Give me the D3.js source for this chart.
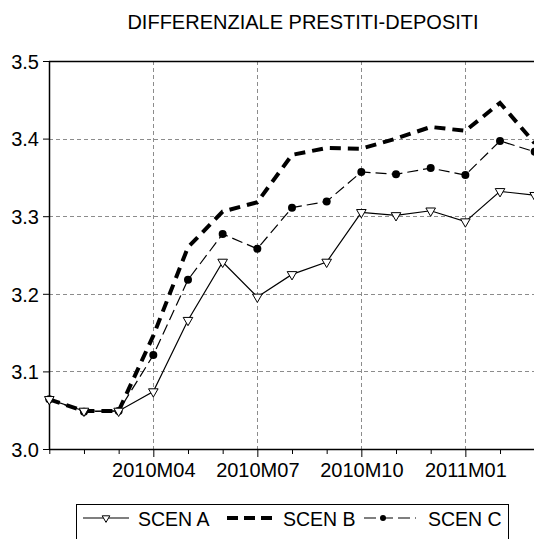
<!DOCTYPE html>
<html>
<head>
<meta charset="utf-8">
<script src="https://cdn.jsdelivr.net/npm/d3@7"></script>
<style>
html,body{margin:0;padding:0;background:#fff;overflow:hidden;}
svg{display:block;}
text{font-family:"Liberation Sans",Arial,sans-serif;fill:#000;}
</style>
</head>
<body>
<div id="chart"></div>
<script>
const title = "DIFFERENZIALE PRESTITI-DEPOSITI";
const months = ["2010M01","2010M02","2010M03","2010M04","2010M05","2010M06","2010M07","2010M08","2010M09","2010M10","2010M11","2010M12","2011M01","2011M02","2011M03"];
const xTickLabels = ["2010M04","2010M07","2010M10","2011M01"];
const yTicks = [3.0, 3.1, 3.2, 3.3, 3.4, 3.5];
const seriesNames = ["SCEN A","SCEN B","SCEN C"];
const scenA = [3.064,3.049,3.049,3.074,3.166,3.241,3.196,3.225,3.241,3.305,3.301,3.307,3.293,3.332,3.327];
const scenB = [3.064,3.049,3.049,3.146,3.260,3.306,3.318,3.379,3.388,3.387,3.400,3.415,3.410,3.446,3.394];
const scenC = [3.064,3.048,3.049,3.121,3.218,3.277,3.258,3.311,3.319,3.357,3.354,3.362,3.353,3.397,3.383];

(function(){
const W = 534, H = 539;
const pL = 49, pR = 535, pT = 61, pB = 449;

const svg = d3.select("#chart").append("svg").attr("width", W).attr("height", H);

const x = d3.scalePoint().domain(months).range([pL + 0.3, 534.7]);
const y = d3.scaleLinear().domain([3.0, 3.5]).range([pB, pT]);

// title
svg.append("text").attr("x", 303).attr("y", 29).attr("text-anchor", "middle")
  .style("font-size", "20px").text(title);

// grid
const grid = svg.append("g").attr("stroke", "#8c8c8c").attr("stroke-width", 1).attr("stroke-dasharray", "4,3");
grid.selectAll("line.h").data(yTicks.filter(v => v > 3.0 && v < 3.5)).join("line")
  .attr("x1", pL).attr("x2", pR).attr("y1", d => Math.round(y(d)) + 0.5).attr("y2", d => Math.round(y(d)) + 0.5);
grid.selectAll("line.v").data(xTickLabels).join("line")
  .attr("y1", pT).attr("y2", pB).attr("x1", d => Math.round(x(d)) + 0.5).attr("x2", d => Math.round(x(d)) + 0.5);

// frame top / right
svg.append("line").attr("x1", pL).attr("x2", pR).attr("y1", pT + 0.5).attr("y2", pT + 0.5)
  .attr("stroke", "#000").attr("stroke-width", 1.5);
svg.append("line").attr("x1", pR).attr("x2", pR).attr("y1", pT).attr("y2", pB)
  .attr("stroke", "#000").attr("stroke-width", 1.5);

// axes
const yAxis = d3.axisLeft(y).tickValues(yTicks).tickFormat(d3.format(".1f")).tickSize(6).tickPadding(4).tickSizeOuter(0);
const gy = svg.append("g").attr("transform", `translate(${pL},0)`).call(yAxis);
gy.select(".domain").attr("stroke-width", 1.5);
gy.selectAll("text").style("font-size", "20px").attr("dy", "0.36em");

const xAxis = d3.axisBottom(x).tickValues(months).tickSize(5).tickPadding(9).tickSizeOuter(0)
  .tickFormat(d => xTickLabels.includes(d) ? d : "");
const gx = svg.append("g").attr("transform", `translate(0,${pB})`).call(xAxis);
gx.select(".domain").attr("stroke-width", 1.5).attr("d", `M${pL},0.5H${pR}`);
gx.selectAll(".tick").filter(d => xTickLabels.includes(d)).select("line").attr("y2", 8);
gx.selectAll("text").style("font-size", "20px");

// lines
const line = d3.line().x((d, i) => x(months[i])).y(d => y(d));
const plot = svg.append("g");

plot.append("path").datum(scenB).attr("d", line).attr("fill", "none").attr("stroke", "#000")
  .attr("stroke-width", 4).attr("stroke-dasharray", "11,7");
plot.append("path").datum(scenC).attr("d", line).attr("fill", "none").attr("stroke", "#000")
  .attr("stroke-width", 1.2).attr("stroke-dasharray", "11,5");
plot.append("path").datum(scenA).attr("d", line).attr("fill", "none").attr("stroke", "#000")
  .attr("stroke-width", 1.2);

plot.selectAll("circle.c").data(scenC).join("circle")
  .attr("cx", (d, i) => x(months[i])).attr("cy", d => y(d)).attr("r", 4).attr("fill", "#000");

const tri = d3.symbol().type(d3.symbolTriangle).size(40);
plot.selectAll("path.a").data(scenA).join("path")
  .attr("d", tri)
  .attr("transform", (d, i) => `translate(${x(months[i])},${y(d)}) rotate(180)`)
  .attr("fill", "#fff").attr("stroke", "#000").attr("stroke-width", 1);

// legend
const lg = svg.append("g");
lg.append("rect").attr("x", 76.5).attr("y", 504.5).attr("width", 432).attr("height", 40)
  .attr("fill", "none").attr("stroke", "#000").attr("stroke-width", 1);
const ly = 518;
const items = [
  {name: seriesNames[0], x1: 83, x2: 129, tx: 138},
  {name: seriesNames[1], x1: 227, x2: 273, tx: 283},
  {name: seriesNames[2], x1: 364, x2: 416, tx: 428}
];
lg.append("line").attr("x1", items[0].x1).attr("x2", items[0].x2).attr("y1", ly).attr("y2", ly)
  .attr("stroke", "#000").attr("stroke-width", 1.2);
lg.append("path").attr("d", d3.symbol().type(d3.symbolTriangle).size(25))
  .attr("transform", `translate(${(items[0].x1 + items[0].x2) / 2},${ly}) rotate(180)`)
  .attr("fill", "#fff").attr("stroke", "#000");
lg.append("line").attr("x1", items[1].x1).attr("x2", items[1].x2).attr("y1", ly).attr("y2", ly)
  .attr("stroke", "#000").attr("stroke-width", 4).attr("stroke-dasharray", "11,6");
lg.append("line").attr("x1", items[2].x1).attr("x2", items[2].x2).attr("y1", ly).attr("y2", ly)
  .attr("stroke", "#000").attr("stroke-width", 1.2).attr("stroke-dasharray", "12,5");
lg.append("circle").attr("cx", 383).attr("cy", ly).attr("r", 3).attr("fill", "#000");
lg.selectAll("text.l").data(items).join("text")
  .attr("x", d => d.tx).attr("y", 526).style("font-size", "19.5px").text(d => d.name);
})();
</script>
</body>
</html>
